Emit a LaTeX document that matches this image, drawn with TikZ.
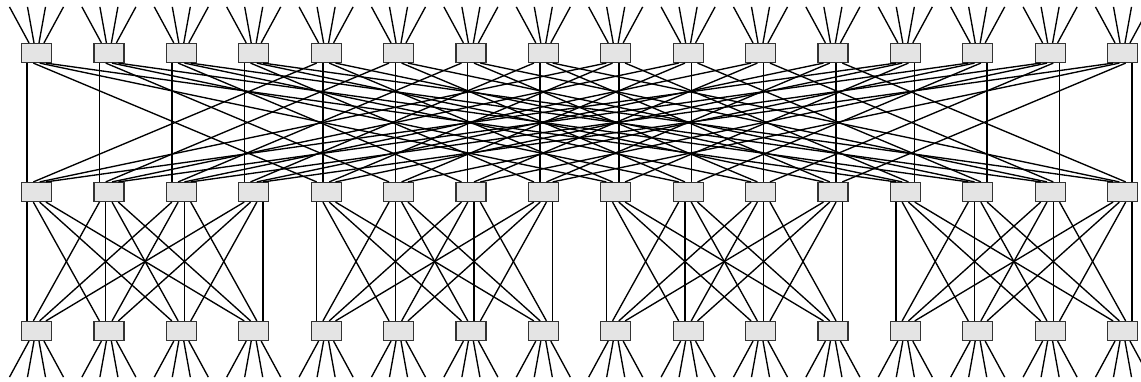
\documentclass[tikz,border=0pt]{standalone}
\usepackage{tikz}
\definecolor{swfill}{HTML}{E4E4E4}
\definecolor{swline}{HTML}{333333}
\tikzset{
  sw/.style={draw=swline,line width=1.2pt,fill=swfill,minimum width=30pt,minimum height=19pt,inner sep=0pt},
  lnk/.style={black,line width=1.35pt}
}
\begin{document}
\begin{tikzpicture}[x=1pt,y=1pt]
\useasboundingbox (0,0) rectangle (1141,381);
% core, aggregation and edge rows
\foreach \i in {0,...,15}{
  \node[sw] (t\i) at (36.5+72.4*\i,328) {};
  \node[sw] (m\i) at (36.5+72.4*\i,189) {};
  \node[sw] (b\i) at (36.5+72.4*\i,50) {};
}
% core to aggregation
\foreach \i in {0,...,15}{
  \foreach \k in {0,...,3}{
    \pgfmathtruncatemacro{\agg}{mod(\i,4)+4*\k}
    \pgfmathtruncatemacro{\grp}{div(\i,4)}
    \draw[lnk] ([xshift={(\k-1.5)*6.3}]t\i.south) -- ([xshift={(\grp-1.5)*6.3}]m\agg.north);
  }
}
% aggregation to edge, per pod
\foreach \p in {0,...,3}{
  \foreach \i in {0,...,3}{
    \foreach \j in {0,...,3}{
      \pgfmathtruncatemacro{\src}{4*\p+\i}
      \pgfmathtruncatemacro{\dst}{4*\p+\j}
      \draw[lnk] ([xshift={(\j-1.5)*6.3}]m\src.south) -- ([xshift={(\i-1.5)*6.3}]b\dst.north);
    }
  }
}
% fans
\foreach \i in {0,...,15}{
  \foreach \k in {0,...,3}{
    \draw[lnk] ([xshift={(\k-1.5)*5}]t\i.north) -- ++({(\k-1.5)*13},36);
    \draw[lnk] ([xshift={(\k-1.5)*5}]b\i.south) -- ++({(\k-1.5)*13},-36);
  }
}
\end{tikzpicture}
\end{document}
